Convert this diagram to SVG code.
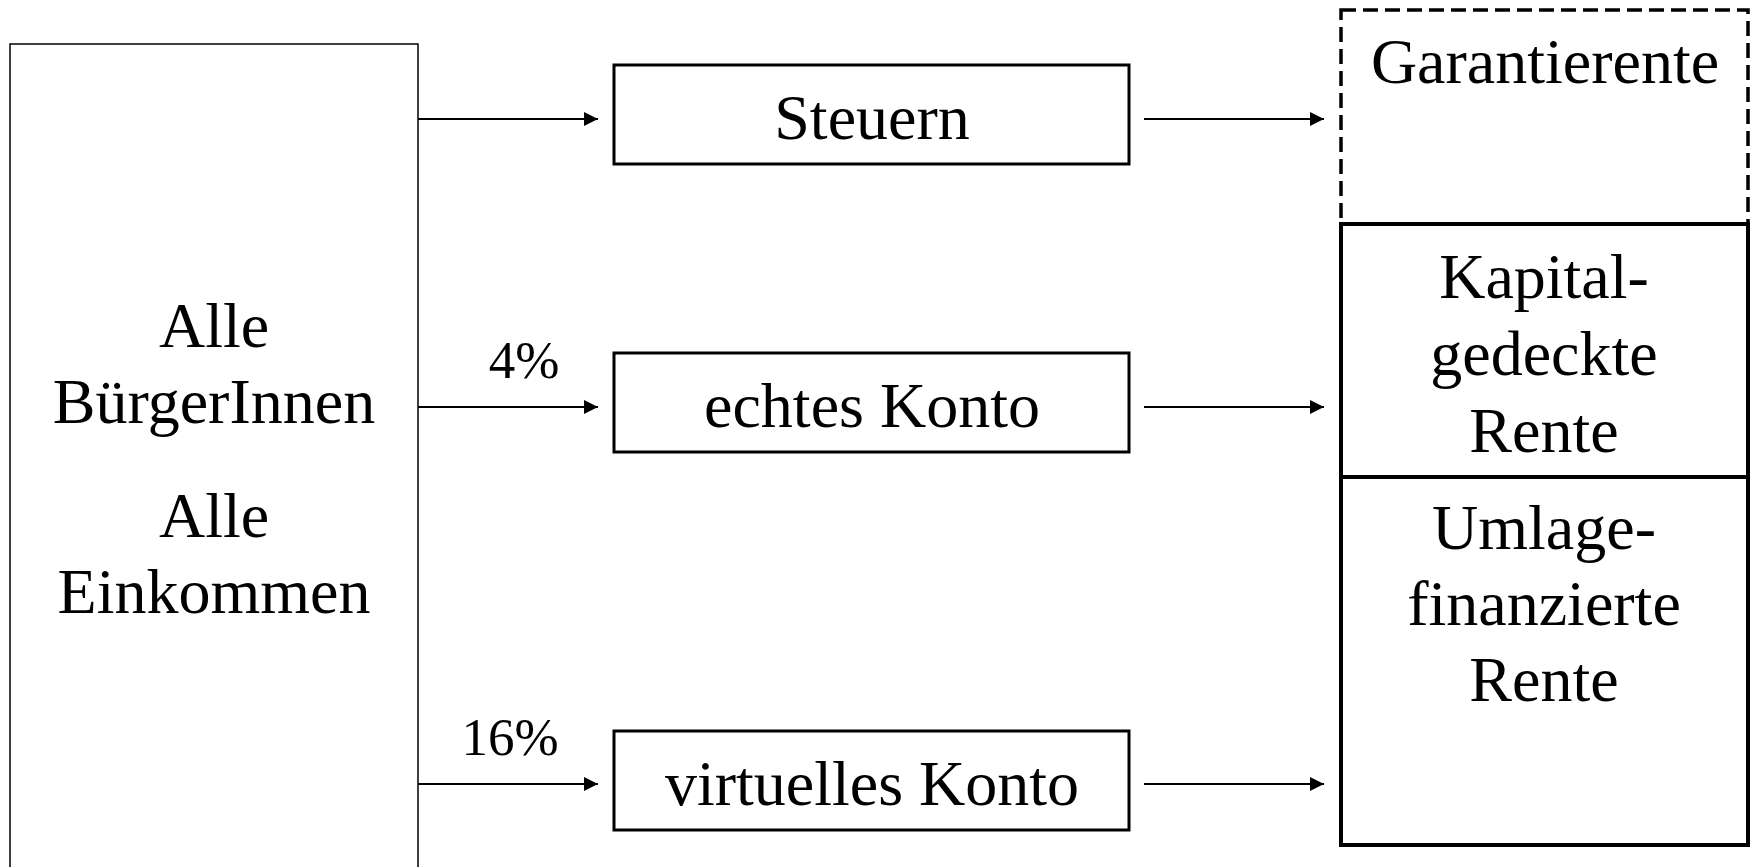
<svg xmlns="http://www.w3.org/2000/svg" width="1754" height="867" viewBox="0 0 1754 867">
<style>
text{font-family:"Liberation Serif","Times New Roman",serif;fill:#000;text-anchor:middle}
.big{font-size:64px}
.pct{font-size:53px}
.thin{fill:#fff;stroke:#000;stroke-width:1.5}
.mid{fill:#fff;stroke:#000;stroke-width:3}
.solid{fill:#fff;stroke:#000;stroke-width:4}
.dash{fill:none;stroke:#000;stroke-width:3.5;stroke-dasharray:15 7}
.conn line{stroke:#000;stroke-width:2}
</style>
<defs>
<marker id="ah" markerWidth="14" markerHeight="14" viewBox="0 0 14 14" refX="14" refY="7" orient="auto" markerUnits="userSpaceOnUse">
<path d="M0,0 L14,7 L0,14 Z" fill="#000"/>
</marker>
</defs>
<rect width="1754" height="867" fill="#fff"/>
<g id="buerger">
<rect class="thin" x="10" y="44" width="408" height="840"/>
<text class="big" x="214" y="347">Alle</text>
<text class="big" x="214" y="423">BürgerInnen</text>
<text class="big" x="214" y="537">Alle</text>
<text class="big" x="214" y="613">Einkommen</text>
</g>
<g id="steuern">
<rect class="mid" x="614" y="65" width="515" height="99"/>
<text class="big" x="872" y="139">Steuern</text>
</g>
<g id="echtes">
<rect class="mid" x="614" y="353" width="515" height="99"/>
<text class="big" x="872" y="427">echtes Konto</text>
</g>
<g id="virtuelles">
<rect class="mid" x="614" y="731" width="515" height="99"/>
<text class="big" x="872" y="805">virtuelles Konto</text>
</g>
<g id="garantie">
<rect class="dash" x="1341" y="10" width="407" height="214"/>
<text class="big" x="1545" y="83">Garantierente</text>
</g>
<g id="kapital">
<rect class="solid" x="1341" y="224" width="407" height="253"/>
<text class="big" x="1544" y="298">Kapital-</text>
<text class="big" x="1544" y="375">gedeckte</text>
<text class="big" x="1544" y="452">Rente</text>
</g>
<g id="umlage">
<rect class="solid" x="1341" y="477" width="407" height="368"/>
<text class="big" x="1544" y="549">Umlage-</text>
<text class="big" x="1544" y="625">finanzierte</text>
<text class="big" x="1544" y="701">Rente</text>
</g>
<g id="connectors" class="conn">
<line x1="418" y1="119" x2="598" y2="119" marker-end="url(#ah)"/>
<line x1="418" y1="407" x2="598" y2="407" marker-end="url(#ah)"/>
<line x1="418" y1="784" x2="598" y2="784" marker-end="url(#ah)"/>
<line x1="1144" y1="119" x2="1324" y2="119" marker-end="url(#ah)"/>
<line x1="1144" y1="407" x2="1324" y2="407" marker-end="url(#ah)"/>
<line x1="1144" y1="784" x2="1324" y2="784" marker-end="url(#ah)"/>
<text class="pct" x="524" y="378">4%</text>
<text class="pct" x="510" y="755">16%</text>
</g>
</svg>
